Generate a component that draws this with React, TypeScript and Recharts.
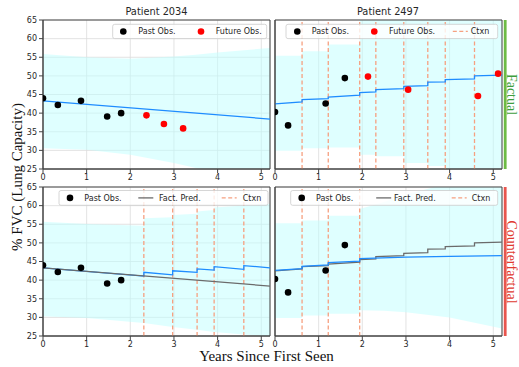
import React from 'react';
import {
  ComposedChart,
  XAxis,
  YAxis,
  CartesianGrid,
  Area,
  Line,
  Scatter,
  ReferenceLine,
  ReferenceArea,
} from 'recharts';

// ---------- tick labels ----------
const xTicks = [0, 1, 2, 3, 4, 5];
const yTicks = [25, 30, 35, 40, 45, 50, 55, 60, 65];

// ---------- Patient 2034 (factual) ----------
const p2034PastX = [0, 0.34, 0.87, 1.47, 1.79];
const p2034PastY = [44.0, 42.2, 43.3, 39.1, 40.0];
const p2034FutureX = [2.37, 2.77, 3.21];
const p2034FutureY = [39.4, 37.1, 35.9];
const p2034PredX = [0, 5.2];
const p2034PredY = [43.3, 38.4];
const p2034BandX = [0, 1, 2, 3, 3.5, 4, 5.2];
const p2034BandLow = [30.6, 30.2, 28.8, 26.6, 25.3, 24.4, 22.5];
const p2034BandHigh = [55.9, 55.0, 54.6, 55.2, 55.7, 56.3, 57.5];

// ---------- Patient 2034 (counterfactual) ----------
const p2034CfCtxn = [2.31, 2.97, 3.53, 3.92, 4.6];
const p2034CfX = [0, 2.31, 2.31, 2.97, 2.97, 3.53, 3.53, 3.92, 3.92, 4.6, 4.6, 5.2];
const p2034CfY = [43.3, 41.1, 42.1, 41.4, 42.5, 42.1, 43.0, 42.7, 43.6, 42.9, 43.9, 43.3];
const p2034CfBandX = [0, 1, 2.31, 2.31, 2.97, 2.97, 3.53, 3.53, 3.92, 3.92, 5.2];
const p2034CfBandLow = [30.3, 29.8, 28.5, 28.5, 27.4, 27.4, 26.7, 26.7, 26.1, 26.1, 24.8];
const p2034CfBandHigh = [55.7, 55.1, 54.6, 56.6, 56.9, 57.5, 57.8, 58.4, 58.8, 59.5, 60.5];

// ---------- Patient 2497 (factual) ----------
const p2497PastX = [0, 0.3, 1.16, 1.6];
const p2497PastY = [40.3, 36.7, 42.6, 49.4];
const p2497FutureX = [2.13, 3.05, 4.65, 5.11];
const p2497FutureY = [49.8, 46.3, 44.6, 50.6];
const p2497Ctxn = [0.62, 1.22, 1.94, 2.31, 2.95, 3.5, 3.9, 4.57];
const p2497PredX = [0, 0.62, 0.62, 1.22, 1.22, 1.94, 1.94, 2.31, 2.31, 2.95, 2.95, 3.5, 3.5, 3.9, 3.9, 4.57, 4.57, 5.2];
const p2497PredY = [42.5, 43.0, 43.6, 43.9, 44.3, 44.8, 45.5, 45.7, 46.3, 46.6, 47.2, 47.4, 48.3, 48.4, 49.0, 49.2, 50.0, 50.2];
const p2497BandX = [0, 0.62, 0.62, 1.22, 1.22, 1.94, 1.94, 2.31, 2.31, 2.95, 2.95, 3.5, 3.5, 3.9, 3.9, 4.57, 4.57, 5.2];
const p2497BandLow = [29.9, 29.9, 30.6, 30.6, 30.8, 30.8, 28.8, 28.8, 28.4, 28.4, 26.6, 26.6, 25.8, 25.8, 24.3, 24.3, 23.0, 23.0];
const p2497BandHigh = [55.4, 55.4, 56.6, 56.6, 58.4, 58.4, 67, 67, 67, 67, 67, 67, 67, 67, 67, 67, 67, 67];

// ---------- Patient 2497 (counterfactual) ----------
const p2497CfCtxn = [0.62, 1.22, 1.94];
const p2497CfX = [0, 0.62, 0.62, 1.22, 1.22, 1.94, 1.94, 3, 4, 5.2];
const p2497CfY = [42.6, 43.1, 43.7, 44.1, 44.7, 45.1, 45.8, 46.2, 46.4, 46.6];
const p2497CfBandX = [0, 0.62, 0.62, 1.22, 1.22, 1.94, 1.94, 2.5, 3, 4, 5.2];
const p2497CfBandLow = [29.8, 29.8, 30.5, 30.5, 31.0, 31.0, 31.9, 31.8, 31.4, 30.0, 27.0];
const p2497CfBandHigh = [55.3, 55.3, 56.0, 56.0, 57.3, 57.3, 59.1, 61, 63, 66, 67];

// ---------- styling ----------
const BLUE = '#1e8cff';
const GRAY = '#6b6b6b';
const CTXN = '#f6a080';
const BAND = '#c0ffff';
const AXIS = '#444';
const TICK_FONT = 'DejaVu Sans, sans-serif';
const SERIF = 'Liberation Serif, Times New Roman, serif';

const PLOT_W = 227;
const PLOT_H = 149;
const Y_AXIS_W = 30;
const X_AXIS_H = 20;
const M = 8;

const pts = (xs: number[], ys: number[]) => xs.map((x, i) => ({ x, y: ys[i] }));
const band = (xs: number[], lo: number[], hi: number[]) =>
  xs.map((x, i) => ({ x, range: [lo[i], hi[i]] }));

const dot = (color: string) => (p: any) =>
  <circle cx={p.cx} cy={p.cy} r={3.3} fill={color} />;

type PanelProps = {
  plotLeft: number;
  plotTop: number;
  showYLabels: boolean;
  bandData: any[];
  lines: { data: any[]; color: string }[];
  past: any[];
  future?: any[];
  ctxn: number[];
};

function Panel({ plotLeft, plotTop, showYLabels, bandData, lines, past, future, ctxn }: PanelProps) {
  const tickStyle = { fontSize: 8, fill: '#262626', fontFamily: TICK_FONT };
  return (
    <div style={{ position: 'absolute', left: plotLeft - Y_AXIS_W, top: plotTop - M }}>
      <ComposedChart
        width={Y_AXIS_W + PLOT_W + M}
        height={M + PLOT_H + X_AXIS_H}
        margin={{ top: M, right: M, left: 0, bottom: 0 }}
      >
        <CartesianGrid stroke="#dcdcdc" strokeWidth={0.8} />
        <XAxis
          type="number"
          dataKey="x"
          domain={[0, 5.2]}
          ticks={xTicks}
          interval={0}
          allowDataOverflow
          height={X_AXIS_H}
          tickSize={4}
          tickMargin={1}
          stroke={AXIS}
          tick={tickStyle}
        />
        <YAxis
          type="number"
          domain={[25, 65]}
          ticks={yTicks}
          interval={0}
          allowDataOverflow
          width={Y_AXIS_W}
          tickSize={4}
          tickMargin={2}
          stroke={AXIS}
          tick={showYLabels ? tickStyle : false}
        />
        <Area
          data={bandData}
          dataKey="range"
          type="linear"
          stroke="none"
          fill={BAND}
          fillOpacity={0.5}
          isAnimationActive={false}
        />
        {ctxn.map((c) => (
          <ReferenceLine key={c} x={c} stroke={CTXN} strokeWidth={1.3} strokeDasharray="4 2.5" />
        ))}
        {lines.map((l, i) => (
          <Line
            key={i}
            data={l.data}
            dataKey="y"
            type="linear"
            stroke={l.color}
            strokeWidth={1.3}
            dot={false}
            activeDot={false}
            isAnimationActive={false}
          />
        ))}
        <Scatter data={past} dataKey="y" shape={dot('#000')} isAnimationActive={false} />
        {future && <Scatter data={future} dataKey="y" shape={dot('#ff0000')} isAnimationActive={false} />}
        <ReferenceArea x1={0} x2={5.2} y1={25} y2={65} fill="none" stroke={AXIS} strokeWidth={1} ifOverflow="visible" />
      </ComposedChart>
    </div>
  );
}

type LegendItem = { kind: 'dot' | 'line' | 'dash'; color: string; label: string; mx: number; tx: number };

function LegendBox({ x, y, w, h, items }: { x: number; y: number; w: number; h: number; items: LegendItem[] }) {
  const cy = y + h / 2;
  return (
    <g>
      <rect x={x} y={y} width={w} height={h} rx={2} fill="#fff" fillOpacity={0.8} stroke="#cccccc" strokeWidth={0.8} />
      {items.map((it, i) => (
        <g key={i}>
          {it.kind === 'dot' && <circle cx={it.mx} cy={cy} r={3.3} fill={it.color} />}
          {it.kind === 'line' && <line x1={it.mx - 7.5} x2={it.mx + 7.5} y1={cy} y2={cy} stroke={it.color} strokeWidth={1.3} />}
          {it.kind === 'dash' && (
            <line x1={it.mx - 7.5} x2={it.mx + 7.5} y1={cy} y2={cy} stroke={it.color} strokeWidth={1.3} strokeDasharray="4 2.5" />
          )}
          <text x={it.tx} y={cy} dy="0.35em" fontSize={8} fontFamily={TICK_FONT} fill="#262626">
            {it.label}
          </text>
        </g>
      ))}
    </g>
  );
}

export default function App() {
  return (
    <div style={{ position: 'absolute', left: 0, top: 0, width: 519, height: 367, background: '#fff', overflow: 'hidden' }}>
      <Panel
        plotLeft={43}
        plotTop={20}
        showYLabels
        bandData={band(p2034BandX, p2034BandLow, p2034BandHigh)}
        lines={[{ data: pts(p2034PredX, p2034PredY), color: BLUE }]}
        past={pts(p2034PastX, p2034PastY)}
        future={pts(p2034FutureX, p2034FutureY)}
        ctxn={[]}
      />
      <Panel
        plotLeft={275}
        plotTop={20}
        showYLabels={false}
        bandData={band(p2497BandX, p2497BandLow, p2497BandHigh)}
        lines={[{ data: pts(p2497PredX, p2497PredY), color: BLUE }]}
        past={pts(p2497PastX, p2497PastY)}
        future={pts(p2497FutureX, p2497FutureY)}
        ctxn={p2497Ctxn}
      />
      <Panel
        plotLeft={43}
        plotTop={187}
        showYLabels
        bandData={band(p2034CfBandX, p2034CfBandLow, p2034CfBandHigh)}
        lines={[
          { data: pts(p2034CfX, p2034CfY), color: BLUE },
          { data: pts(p2034PredX, p2034PredY), color: GRAY },
        ]}
        past={pts(p2034PastX, p2034PastY)}
        ctxn={p2034CfCtxn}
      />
      <Panel
        plotLeft={275}
        plotTop={187}
        showYLabels={false}
        bandData={band(p2497CfBandX, p2497CfBandLow, p2497CfBandHigh)}
        lines={[
          { data: pts(p2497PredX, p2497PredY), color: GRAY },
          { data: pts(p2497CfX, p2497CfY), color: BLUE },
        ]}
        past={pts(p2497PastX, p2497PastY)}
        ctxn={p2497CfCtxn}
      />

      <svg width={519} height={367} style={{ position: 'absolute', left: 0, top: 0, pointerEvents: 'none' }}>
        <LegendBox
          x={112.7}
          y={24.3}
          w={154}
          h={14.3}
          items={[
            { kind: 'dot', color: '#000', label: 'Past Obs.', mx: 123.3, tx: 138.3 },
            { kind: 'dot', color: '#ff0000', label: 'Future Obs.', mx: 201, tx: 215.7 },
          ]}
        />
        <LegendBox
          x={286}
          y={24.3}
          w={211.7}
          h={14.3}
          items={[
            { kind: 'dot', color: '#000', label: 'Past Obs.', mx: 297.3, tx: 311.7 },
            { kind: 'dot', color: '#ff0000', label: 'Future Obs.', mx: 374.3, tx: 389 },
            { kind: 'dash', color: CTXN, label: 'Ctxn', mx: 460.3, tx: 470.7 },
          ]}
        />
        <LegendBox
          x={59}
          y={190.5}
          w={209}
          h={14.8}
          items={[
            { kind: 'dot', color: '#000', label: 'Past Obs.', mx: 70, tx: 84.3 },
            { kind: 'line', color: GRAY, label: 'Fact. Pred.', mx: 145.8, tx: 159 },
            { kind: 'dash', color: CTXN, label: 'Ctxn', mx: 229.2, tx: 242.7 },
          ]}
        />
        <LegendBox
          x={290.7}
          y={190.5}
          w={207}
          h={14.8}
          items={[
            { kind: 'dot', color: '#000', label: 'Past Obs.', mx: 301.7, tx: 316 },
            { kind: 'line', color: GRAY, label: 'Fact. Pred.', mx: 383.7, tx: 394 },
            { kind: 'dash', color: CTXN, label: 'Ctxn', mx: 459.2, tx: 471.7 },
          ]}
        />
        <text x={156.5} y={12} dy="0.35em" textAnchor="middle" fontSize={9.8} fontFamily={TICK_FONT} fill="#262626">
          Patient 2034
        </text>
        <text x={388} y={12} dy="0.35em" textAnchor="middle" fontSize={9.8} fontFamily={TICK_FONT} fill="#262626">
          Patient 2497
        </text>
        <rect x={503.8} y={20} width={2.8} height={149} fill="#6dbb45" />
        <rect x={503.8} y={187} width={2.8} height={149} fill="#e8554e" />
        <text
          x={511}
          y={94.5}
          textAnchor="middle"
          dy="0.32em"
          fontSize={14}
          fontFamily={SERIF}
          fill="#3e9e3e"
          transform="rotate(90 511 94.5)"
        >
          Factual
        </text>
        <text
          x={511}
          y={262}
          textAnchor="middle"
          dy="0.32em"
          fontSize={14}
          fontFamily={SERIF}
          fill="#e0392f"
          transform="rotate(90 511 262)"
        >
          Counterfactual
        </text>
        <text
          x={17}
          y={177}
          textAnchor="middle"
          dy="0.32em"
          fontSize={15}
          fontFamily={SERIF}
          fill="#111"
          transform="rotate(-90 17 177)"
        >
          % FVC (Lung Capacity)
        </text>
        <text x={266.5} y={356} textAnchor="middle" dy="0.32em" fontSize={15} fontFamily={SERIF} fill="#111">
          Years Since First Seen
        </text>
      </svg>
    </div>
  );
}
